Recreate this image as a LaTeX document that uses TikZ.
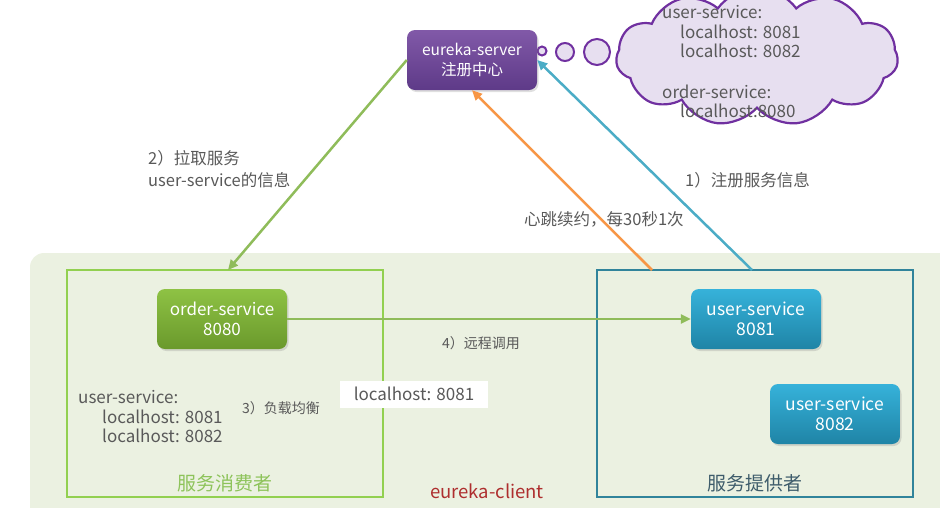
\documentclass[tikz,border=0pt]{standalone}
\usepackage{fontspec}
\setmainfont{Noto Sans CJK SC}
\usetikzlibrary{arrows.meta,shapes.symbols,shadows,calc}
\definecolor{bgc}{HTML}{EBF1E1}
\definecolor{consc}{HTML}{92D050}
\definecolor{provc}{HTML}{31849B}
\definecolor{esTop}{HTML}{8159A8}
\definecolor{esBot}{HTML}{5E3A88}
\definecolor{osTop}{HTML}{8EC244}
\definecolor{osBot}{HTML}{6A992C}
\definecolor{usTop}{HTML}{36B2DA}
\definecolor{usBot}{HTML}{1F84A6}
\definecolor{agreen}{HTML}{8FBC5A}
\definecolor{ablue}{HTML}{4BACC6}
\definecolor{aorange}{HTML}{F79646}
\definecolor{txtg}{HTML}{595959}
\definecolor{ecred}{HTML}{AE2E2E}
\definecolor{consTxt}{HTML}{8DC35A}
\definecolor{provTxt}{HTML}{3E5C6B}
\definecolor{cloudFill}{HTML}{E7DFF0}
\definecolor{cloudLine}{HTML}{7030A0}
\tikzset{
  svc/.style={rounded corners=8pt, minimum width=130pt, minimum height=60pt,
    text=white, align=center, font=\fontsize{17}{20}\selectfont,
    drop shadow={opacity=0.25, shadow xshift=1.5pt, shadow yshift=-2pt}},
  server/.style={svc, top color=esTop, bottom color=esBot, font=\fontsize{15.5}{20}\selectfont},
  ordersvc/.style={svc, top color=osTop, bottom color=osBot},
  usersvc/.style={svc, top color=usTop, bottom color=usBot, font=\fontsize{17.5}{20}\selectfont},
  groupbox/.style={draw, line width=2.5pt, minimum width=316pt, minimum height=227pt, inner sep=0pt},
  lbl/.style={text=txtg, font=\fontsize{16.5}{22}\selectfont, anchor=west, inner sep=0pt, align=left},
  lblsm/.style={lbl, font=\fontsize{14}{20}\selectfont},
  mono/.style={text=txtg, font=\fontsize{17}{19.5}\selectfont, anchor=west, inner sep=0pt, align=left},
  conn/.style={line width=2.5pt, -{Triangle[length=10pt,width=9pt]}},
  bubble/.style={draw=cloudLine, line width=2pt, fill=cloudFill}
}
\begin{document}
\begin{tikzpicture}[x=1pt,y=-1pt]
\useasboundingbox (0,0) rectangle (940,507);
\begin{scope}
\clip (0,0) rectangle (940,507);
\fill[bgc, rounded corners=14pt] (30,253) rectangle (960,530);
% cloud
\node[cloud, cloud puffs=11, cloud puff arc=110, aspect=2.2, minimum width=282pt, minimum height=138pt, draw=cloudLine, line width=2.2pt, fill=cloudFill] (cloud) at (757,57) {};
\end{scope}
\node[bubble, circle, minimum size=9pt, inner sep=0pt] (b1) at (542,51) {};
\node[bubble, circle, minimum size=18pt, inner sep=0pt] (b2) at (565,52) {};
\node[bubble, circle, minimum size=26pt, inner sep=0pt] (b3) at (597,52) {};
\node[mono] (ct) at (662,62) {user-service:\\\hspace*{18pt}localhost: 8081\\\hspace*{18pt}localhost: 8082\\[21pt]order-service:\\\hspace*{18pt}localhost:8080};

% group boxes
\node[groupbox, draw=consc] (cons) at (225,383.5) {};
\node[groupbox, draw=provc] (prov) at (755,383.5) {};

% services
\node[server] (es) at (472,60) {eureka-server\\注册中心};
\node[ordersvc] (os) at (222,319) {order-service\\8080};
\node[usersvc] (us1) at (756,319) {user-service\\8081};
\node[usersvc] (us2) at (835,414) {user-service\\8082};

\coordinate (hb) at (652,270);
\coordinate (pull) at (228,270);
\coordinate (reg) at (752,270);

% connectors
\draw[conn, agreen] (es.west) -- (pull);
\draw[conn, ablue] (reg) -- (es.east);
\draw[conn, aorange] (hb) -- (es.south);
\draw[conn, agreen] (os.east) -- (us1.west);

% labels
\node[lbl] (l2) at (148,169) {2）拉取服务\\user-service的信息};
\node[lbl] (l1) at (685,180) {1）注册服务信息};
\node[lbl] (lh) at (524,219) {心跳续约，每30秒1次};
\node[lblsm] (l4) at (442,343) {4）远程调用};
\node[lblsm] (l3) at (242,408) {3）负载均衡};
\node[fill=white, text=txtg, font=\fontsize{17}{20}\selectfont, minimum width=148pt, minimum height=27pt, inner sep=0pt] (lc) at (414,394) {localhost: 8081};
\node[mono] (lst) at (78,417) {user-service:\\\hspace*{24pt}localhost: 8081\\\hspace*{24pt}localhost: 8082};
\node[text=consTxt, font=\fontsize{19}{20}\selectfont] (tc) at (225,483) {服务消费者};
\node[text=provTxt, font=\fontsize{19}{20}\selectfont] (tp) at (755,483) {服务提供者};
\node[text=ecred, font=\fontsize{18.5}{20}\selectfont] (ec) at (487,491) {eureka-client};
\end{tikzpicture}
\end{document}
